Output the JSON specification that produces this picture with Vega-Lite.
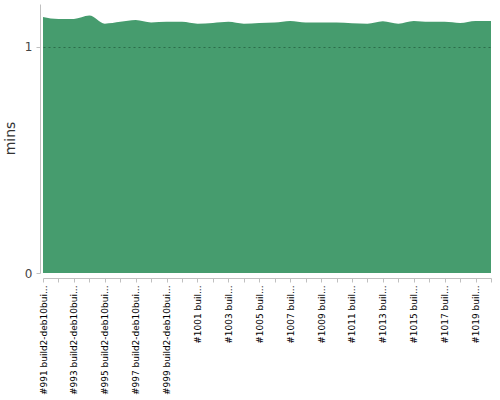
{
  "$schema": "https://vega.github.io/schema/vega-lite/v6.json",
  "width": 448,
  "height": 269,
  "autosize": {"type": "none"},
  "padding": {"left": 43, "top": 4, "right": 9, "bottom": 127},
  "background": "white",
  "config": {"view": {"stroke": null}, "font": "DejaVu Sans"},
  "data": {"values": [
    {"build": "#991 build2-deb10bui...", "mins": 1.133},
    {"build": "#992 build2-deb10bui...", "mins": 1.124},
    {"build": "#993 build2-deb10bui...", "mins": 1.124},
    {"build": "#994 build2-deb10bui...", "mins": 1.139},
    {"build": "#995 build2-deb10bui...", "mins": 1.103},
    {"build": "#996 build2-deb10bui...", "mins": 1.111},
    {"build": "#997 build2-deb10bui...", "mins": 1.119},
    {"build": "#998 build2-deb10bui...", "mins": 1.108},
    {"build": "#999 build2-deb10bui...", "mins": 1.111},
    {"build": "#1000 buil...", "mins": 1.111},
    {"build": "#1001 buil...", "mins": 1.103},
    {"build": "#1002 buil...", "mins": 1.106},
    {"build": "#1003 buil...", "mins": 1.111},
    {"build": "#1004 buil...", "mins": 1.103},
    {"build": "#1005 buil...", "mins": 1.106},
    {"build": "#1006 buil...", "mins": 1.108},
    {"build": "#1007 buil...", "mins": 1.115},
    {"build": "#1008 buil...", "mins": 1.108},
    {"build": "#1009 buil...", "mins": 1.108},
    {"build": "#1010 buil...", "mins": 1.108},
    {"build": "#1011 buil...", "mins": 1.105},
    {"build": "#1012 buil...", "mins": 1.103},
    {"build": "#1013 buil...", "mins": 1.114},
    {"build": "#1014 buil...", "mins": 1.103},
    {"build": "#1015 buil...", "mins": 1.115},
    {"build": "#1016 buil...", "mins": 1.111},
    {"build": "#1017 buil...", "mins": 1.111},
    {"build": "#1018 buil...", "mins": 1.106},
    {"build": "#1019 buil...", "mins": 1.115},
    {"build": "#1020 buil...", "mins": 1.115}
  ]},
  "mark": {"type": "area", "color": "#469c6e", "opacity": 1, "interpolate": "monotone"},
  "encoding": {
    "x": {
      "field": "build", "type": "ordinal", "sort": null,
      "scale": {"type": "point", "padding": 0},
      "axis": {
        "title": null,
        "labelAngle": 270, "labelAlign": "right", "labelBaseline": "middle",
        "labelFontSize": 9, "labelColor": "#000", "labelPadding": 3,
        "labelLimit": 200, "labelOverlap": false,
        "labelExpr": "toNumber(substring(datum.label, 1, 5)) % 2 == 1 ? datum.label : ''",
        "domainColor": "#c0c0c0", "tickColor": "#c0c0c0", "tickSize": 4,
        "offset": 5, "grid": false
      }
    },
    "y": {
      "field": "mins", "type": "quantitative",
      "scale": {"domain": [0, 1.19], "nice": false, "zero": true},
      "axis": {
        "title": "mins", "titleFontSize": 14, "titleFontWeight": "normal", "titleColor": "#333",
        "titleX": -30, "titleY": 134, "titleAngle": 270, "titleAlign": "center", "titleBaseline": "middle",
        "values": [0, 1], "format": "d", "labelFontSize": 12, "labelColor": "#444", "labelPadding": 4,
        "domainColor": "#c0c0c0", "tickColor": "#c0c0c0", "tickSize": 4,
        "offset": 3, "zindex": 1,
        "grid": true, "gridColor": "#1f5a3a", "gridDash": [2, 3],
        "gridOpacity": {"condition": {"test": "datum.value == 1", "value": 0.7}, "value": 0}
      }
    }
  }
}
